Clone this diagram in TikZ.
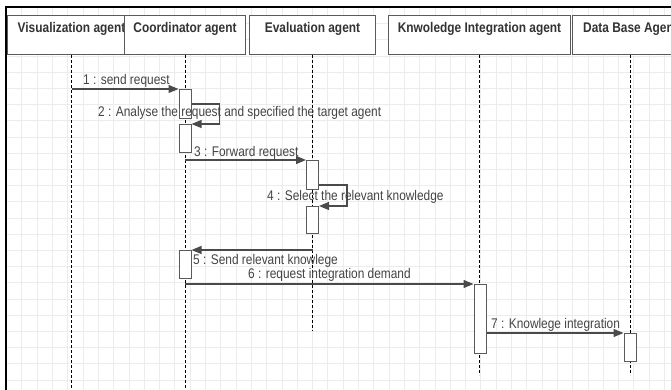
\documentclass[tikz,border=0pt]{standalone}
\usepackage{fontspec}
\setmainfont{Liberation Sans}[FakeStretch=0.85]
\usetikzlibrary{arrows.meta}
\definecolor{gridc}{HTML}{ECECEC}
\definecolor{ink}{HTML}{333333}
\definecolor{msgink}{HTML}{444444}
\definecolor{linec}{HTML}{4A4A4A}
\definecolor{boxc}{HTML}{5A5A5A}
\begin{document}
\begin{tikzpicture}[x=1pt,y=-1pt,
  every node/.style={font=\fontsize{14pt}{16pt}\selectfont},
  head/.style={draw=boxc, line width=1pt, fill=white, anchor=north west,
    minimum height=39pt, inner xsep=0pt, inner ysep=0pt,
    text height=10pt, text depth=15pt, text=ink,
    font=\fontsize{14pt}{16pt}\selectfont\bfseries},
  act/.style={draw=boxc, line width=1pt, fill=white, anchor=north west,
    minimum width=12pt, inner sep=0pt},
  life/.style={draw=black, line width=0.8pt, dash pattern=on 3pt off 2pt},
  msg/.style={draw=linec, line width=1.2pt, -{Triangle[length=10pt,width=8pt]}},
  lbl/.style={anchor=base west, inner sep=0pt, text=msgink}
]
\useasboundingbox (0,0) rectangle (671,390);
\clip (0,0) rectangle (671,390);
\fill[white] (0,0) rectangle (671,390);

% background grid
\foreach \i in {0,...,43}
  \draw[gridc, line width=0.7pt] ({6.5+15.3*\i},7) -- ({6.5+15.3*\i},392);
\foreach \j in {0,...,24}
  \draw[gridc, line width=0.7pt] (6,{7.4+16.2*\j}) -- (673,{7.4+16.2*\j});

% lifeline heads
\node[head, minimum width=128pt] (hvis) at (7,15) {Visualization agent};
\node[head, minimum width=121pt] (hcoo) at (124,15) {Coordinator agent};
\node[head, minimum width=126pt] (heva) at (249,15) {Evaluation agent};
\node[head, minimum width=182pt] (hkin) at (388,15) {Knwoledge Integration agent};
\node[head, minimum width=116pt] (hdb)  at (572,15) {Data Base Agent};

% lifeline ends
\coordinate (ybot) at (0,392);
\coordinate (yeva) at (0,331);
\coordinate (ykin) at (0,375);

% dashed lifelines
\draw[life] (hvis.south) -- (hvis.south |- ybot);
\draw[life] (hcoo.south) -- (hcoo.south |- ybot);
\draw[life] (heva.south) -- (heva.south |- yeva);
\draw[life] (hkin.south) -- (hkin.south |- ykin);
\draw[life] (hdb.south)  -- (hdb.south |- ykin);

% activation bars
\node[act, minimum height=29pt] (c1) at (178.5,89) {};
\node[act, minimum height=28pt] (c2) at (178.5,124) {};
\node[act, minimum height=29pt] (e1) at (306,160) {};
\node[act, minimum height=27pt] (e2) at (306,206) {};
\node[act, minimum height=28pt] (c3) at (178.5,250) {};
\node[act, minimum height=69pt] (k1) at (473.5,284) {};
\node[act, minimum height=28pt] (d1) at (623.5,333) {};

% messages
\draw[msg] (hvis.south |- c1.north west) -- (c1.north west);
\draw[msg] (c1.east) -- ++(28,0) |- (c2.north east);
\draw[msg] (hcoo.south |- e1.north west) -- (e1.north west);
\draw[msg] ([yshift=5pt]e1.south east) -- ++(28,0) |- (e2.north east);
\draw[msg] (heva.south |- c3.north east) -- (c3.north east);
\draw[msg] (hcoo.south |- k1.north west) -- (k1.north west);
\draw[msg] (k1.east |- d1.north west) -- (d1.north west);

% message labels
\node[lbl] (m1) at (83,85)  {1 : send request};
\node[lbl] (m2) at (98,117) {2 : Analyse the request and specified the target agent};
\node[lbl] (m3) at (194,157) {3 : Forward request};
\node[lbl] (m4) at (267,200) {4 : Select the relevant knowledge};
\node[lbl] (m5) at (193,264) {5 : Send relevant knowlege};
\node[lbl] (m6) at (248,278) {6 : request integration demand};
\node[lbl] (m7) at (491,328) {7 : Knowlege integration};

% outer frame
\draw[black, line width=2pt] (6,392) -- (6,7) -- (673,7);
\end{tikzpicture}
\end{document}
